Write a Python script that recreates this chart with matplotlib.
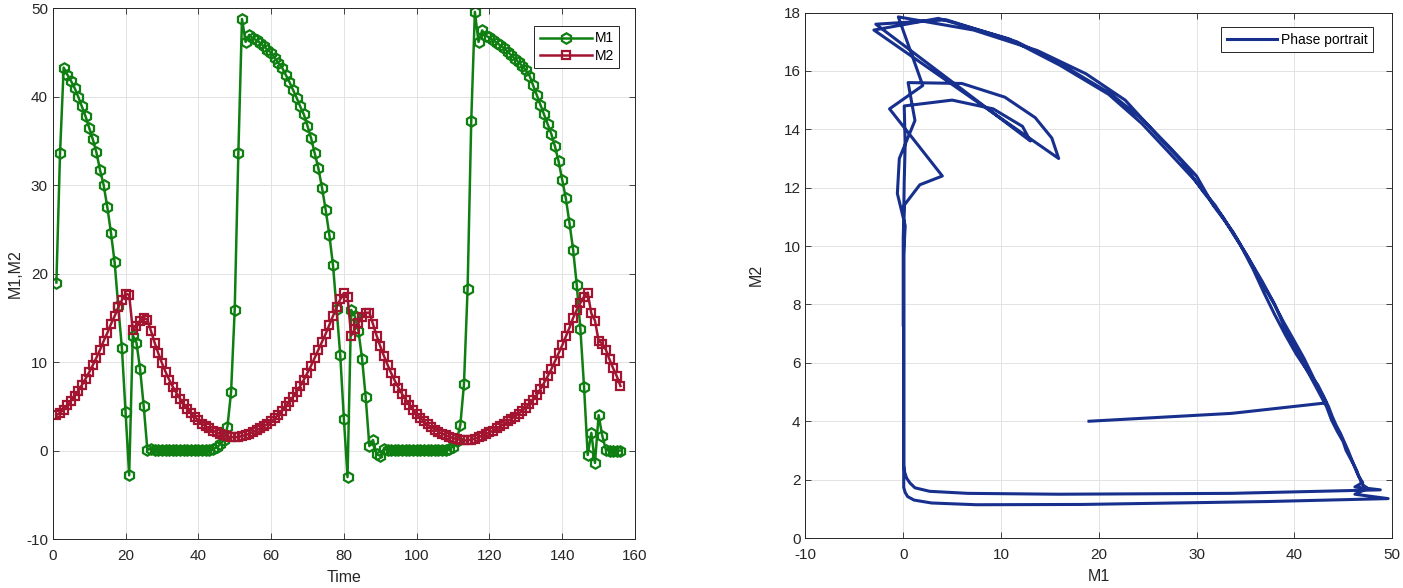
"""
plot.py - M1/M2 time series next to the M2-vs-M1 phase portrait.

    python3 plot.py
Output: out.png
"""

import numpy as np
import matplotlib
matplotlib.use("Agg")
import matplotlib.pyplot as plt

plt.rcParams["font.family"] = ["Liberation Sans", "DejaVu Sans"]
plt.rcParams["axes.unicode_minus"] = False

# time steps 1..156
time = list(range(1, 157))

M1 = [
    19.0, 33.6, 43.3, 42.5, 41.8, 41.0, 40.0, 38.9, 37.8, 36.5,       # 1-10
    35.2, 33.7, 31.7, 30.0, 27.5, 24.6, 21.3, 16.3, 11.6, 4.4,        # 11-20
    -2.8, 13.0, 12.2, 9.2, 5.0, 0.1, 0.2, 0.1, 0.05, 0.05,            # 21-30
    0.05, 0.05, 0.05, 0.05, 0.05, 0.05, 0.05, 0.05, 0.05, 0.05,       # 31-40
    0.05, 0.05, 0.05, 0.15, 0.35, 0.7, 1.2, 2.7, 6.6, 15.9,           # 41-50
    33.6, 48.8, 46.2, 47.0, 46.6, 46.4, 46.1, 45.7, 45.3, 45.0,       # 51-60
    44.4, 43.8, 43.3, 42.5, 41.7, 40.8, 39.9, 38.9, 38.0, 36.7,       # 61-70
    35.3, 33.6, 31.9, 29.7, 27.2, 24.4, 21.0, 16.0, 10.8, 3.6,        # 71-80
    -3.0, 15.9, 15.2, 13.5, 10.4, 6.0, 0.5, 1.2, -0.4, -0.6,          # 81-90
    0.2, 0.05, 0.05, 0.05, 0.05, 0.05, 0.05, 0.05, 0.05, 0.05,        # 91-100
    0.05, 0.05, 0.05, 0.05, 0.05, 0.05, 0.05, 0.05, 0.2, 0.45,        # 101-110
    1.1, 2.9, 7.5, 18.3, 37.3, 49.6, 46.2, 47.5, 46.9, 46.7,          # 111-120
    46.4, 46.1, 45.8, 45.5, 45.1, 44.7, 44.3, 43.9, 43.5, 43.0,       # 121-130
    42.4, 41.3, 40.2, 39.1, 38.0, 36.9, 35.8, 34.4, 32.7, 30.6,       # 131-140
    28.5, 25.7, 22.7, 18.7, 13.7, 7.2, -0.5, 2.0, -1.4, 4.0,          # 141-150
    1.7, 0.1, 0.0, 0.0, 0.0, 0.0,                                     # 151-156
]

M2 = [
    4.0, 4.27, 4.63, 5.1, 5.6, 6.15, 6.75, 7.4, 8.1, 8.85,            # 1-10
    9.65, 10.5, 11.4, 12.4, 13.3, 14.3, 15.2, 16.2, 17.0, 17.75,      # 11-20
    17.6, 13.6, 14.1, 14.7, 15.0, 14.8, 13.5, 12.2, 11.0, 9.9,        # 21-30
    8.9, 8.0, 7.2, 6.5, 5.85, 5.25, 4.7, 4.2, 3.8, 3.4,               # 31-40
    3.05, 2.75, 2.5, 2.25, 2.05, 1.88, 1.72, 1.6, 1.53, 1.5,          # 41-50
    1.53, 1.65, 1.75, 1.9, 2.1, 2.3, 2.5, 2.75, 3.0, 3.3,             # 51-60
    3.65, 4.05, 4.5, 5.0, 5.5, 6.05, 6.65, 7.3, 8.0, 8.8,             # 61-70
    9.6, 10.5, 11.4, 12.3, 13.2, 14.2, 15.2, 16.2, 17.1, 17.8,        # 71-80
    17.4, 13.0, 13.7, 14.4, 15.1, 15.57, 15.6, 14.3, 13.0, 11.8,      # 81-90
    10.7, 9.7, 8.75, 7.9, 7.1, 6.4, 5.75, 5.15, 4.6, 4.1,             # 91-100
    3.7, 3.3, 2.95, 2.65, 2.38, 2.13, 1.92, 1.73, 1.56, 1.42,         # 101-110
    1.3, 1.2, 1.14, 1.15, 1.25, 1.35, 1.5, 1.7, 1.85, 2.05,           # 111-120
    2.25, 2.5, 2.75, 3.0, 3.3, 3.6, 3.85, 4.15, 4.5, 4.85,            # 121-130
    5.25, 5.75, 6.3, 6.95, 7.65, 8.4, 9.2, 10.1, 11.0, 11.9,          # 131-140
    12.9, 13.9, 15.0, 15.9, 16.7, 17.4, 17.85, 15.5, 14.7, 12.4,      # 141-150
    12.1, 11.4, 10.3, 9.3, 8.4, 7.3,                                  # 151-156
]

GREEN = "#0f7f12"
RED = "#a2142f"
BLUE = "#17308e"
GRID = "#e3e3e3"
AXC = "#262626"


def style(ax):
    ax.grid(True, color=GRID, linewidth=0.7)
    ax.set_axisbelow(True)
    ax.tick_params(direction="in", length=4, width=0.6, colors=AXC,
                   labelsize=11, top=True, right=True)
    ax.tick_params(axis="x", pad=7)
    for s in ax.spines.values():
        s.set_color(AXC)
        s.set_linewidth(0.7)


def main():
    fig = plt.figure(figsize=(14.03, 5.88), dpi=100)
    ax1 = fig.add_axes([0.0376, 0.0833, 0.4150, 0.9026])
    ax2 = fig.add_axes([0.5741, 0.0850, 0.4181, 0.8937])

    # left: time series
    ax1.plot(time, M1, color=GREEN, lw=1.8, marker="h", ms=7.5, mfc="none",
             mec=GREEN, mew=1.6, label="M1")
    ax1.plot(time, M2, color=RED, lw=1.8, marker="s", ms=6, mfc="none",
             mec=RED, mew=1.6, label="M2")
    ax1.set_xlim(0, 160)
    ax1.set_ylim(-10, 50)
    ax1.set_xticks(np.arange(0, 161, 20))
    ax1.set_yticks(np.arange(-10, 51, 10))
    ax1.set_xlabel("Time", fontsize=11.5, color=AXC, labelpad=5)
    ax1.set_ylabel("M1,M2", fontsize=11.5, color=AXC, labelpad=2)
    style(ax1)
    leg = ax1.legend(loc="upper right", fontsize=10, handlelength=3.8,
                     handletextpad=0.15, borderpad=0.4, labelspacing=0.25,
                     fancybox=False, framealpha=1, edgecolor=AXC,
                     bbox_to_anchor=(0.985, 0.98))
    leg.get_frame().set_linewidth(0.7)

    # right: phase portrait
    ax2.plot(M1, M2, color=BLUE, lw=2.2, label="Phase portrait")
    ax2.set_xlim(-10, 50)
    ax2.set_ylim(0, 18)
    ax2.set_xticks(np.arange(-10, 51, 10))
    ax2.set_yticks(np.arange(0, 19, 2))
    ax2.set_xlabel("M1", fontsize=11.5, color=AXC, labelpad=5)
    ax2.set_ylabel("M2", fontsize=11.5, color=AXC, labelpad=14)
    style(ax2)
    leg2 = ax2.legend(loc="upper right", fontsize=10, handlelength=3.6,
                      handletextpad=0.3, borderpad=0.4,
                      fancybox=False, framealpha=1, edgecolor=AXC,
                      bbox_to_anchor=(0.98, 0.985))
    leg2.get_frame().set_linewidth(0.7)

    fig.savefig("out.png", dpi=100)


if __name__ == "__main__":
    main()
